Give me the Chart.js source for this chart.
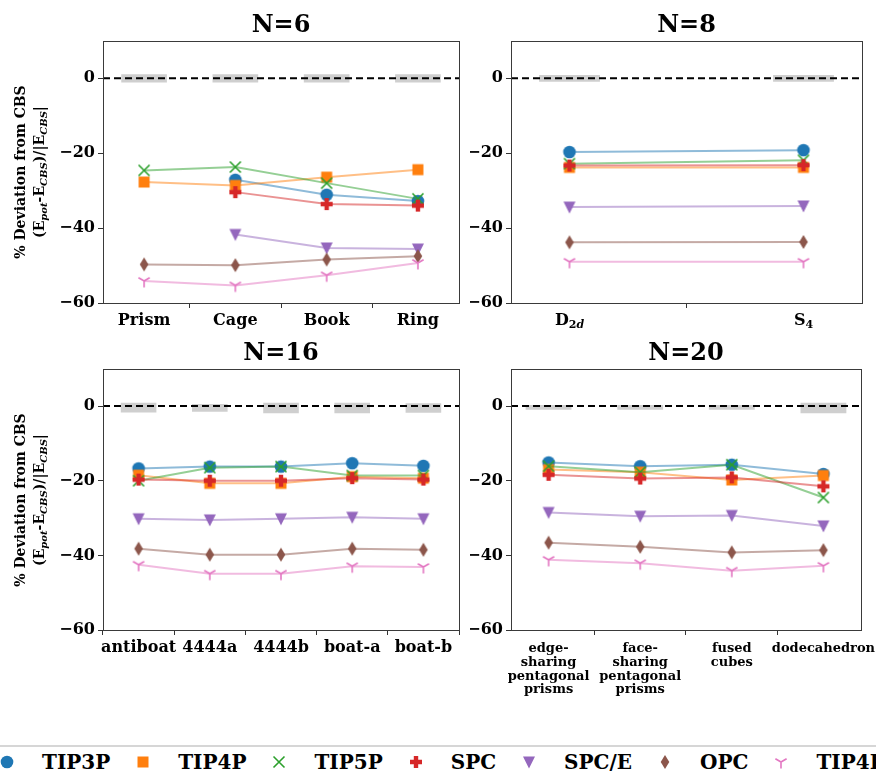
<!DOCTYPE html>
<html>
<head>
<meta charset="utf-8">
<script src="https://cdn.jsdelivr.net/npm/chart.js@4.4.1/dist/chart.umd.min.js"></script>
<style>
  html, body { margin: 0; padding: 0; background: #fff; }
  body { width: 876px; height: 779px; position: relative; overflow: hidden; font-family: 'DejaVu Serif', serif; }
  canvas.panel { position: absolute; }
  .ylab { position: absolute; width: 260px; height: 40px; text-align: center; font-weight: bold; font-size: 14px;
          line-height: 19px; transform: rotate(-90deg); white-space: nowrap; color: #000; }
  .ylab sub { font-size: 10px; font-style: italic; vertical-align: -3px; line-height: 0; }
  #legend { position: absolute; left: -3px; top: 745px; width: 1200px; height: 29px; border-top: 2px solid #d6d6d6;
            display: flex; align-items: center; }
  #legend .item { display: flex; align-items: center; margin-right: 23px; }
  #legend .mk { width: 20px; display: flex; justify-content: center; }
  #legend .txt { margin-left: 25px; font-weight: bold; font-size: 20px; color: #000; white-space: nowrap; }
</style>
</head>
<body>
<canvas id="c6" class="panel" width="470" height="345" style="left:0;top:0"></canvas>
<canvas id="c8" class="panel" width="406" height="345" style="left:470px;top:0"></canvas>
<canvas id="c16" class="panel" width="470" height="400" style="left:0;top:328px"></canvas>
<canvas id="c20" class="panel" width="406" height="400" style="left:470px;top:328px"></canvas>
<div class="ylab" style="left:-99px;top:152px">% Deviation from CBS<br>(E<sub>pot</sub>-E<sub>CBS</sub>)/|E<sub>CBS</sub>|</div>
<div class="ylab" style="left:-99px;top:480px">% Deviation from CBS<br>(E<sub>pot</sub>-E<sub>CBS</sub>)/|E<sub>CBS</sub>|</div>
<div id="legend"></div>
<script>
const SERIF = "'DejaVu Serif', serif";
const SERIES = ['TIP3P', 'TIP4P', 'TIP5P', 'SPC', 'SPC/E', 'OPC', 'TIP4P/Ew'];
const COLORS = ['#1f77b4', '#ff7f0e', '#2ca02c', '#d62728', '#9467bd', '#8c564b', '#e377c2'];
const MARKERS = ['o', 's', 'x', 'P', 'v', 'd', '1'];
const yTicks = [-60, -40, -20, 0];

// N=6
const catsN6 = ['Prism', 'Cage', 'Book', 'Ring'];
const tip3pN6 = [null, -27.1, -31.1, -32.8];
const tip4pN6 = [-27.7, -28.6, -26.4, -24.4];
const tip5pN6 = [-24.6, -23.7, -28.0, -32.2];
const spcN6 = [null, -30.4, -33.6, -34.0];
const spceN6 = [null, -41.7, -45.3, -45.6];
const opcN6 = [-49.7, -49.9, -48.4, -47.5];
const ewN6 = [-54.1, -55.3, -52.6, -49.3];
const cbsLowN6 = [-1.1, -1.1, -1.1, -1.1];
const cbsHighN6 = [1.1, 1.1, 1.1, 1.1];

// N=8
const catsN8 = ['D', 'S'];
const subN8 = ['2d', '4'];
const tip3pN8 = [-19.7, -19.2];
const tip4pN8 = [-23.8, -23.8];
const tip5pN8 = [-22.8, -21.9];
const spcN8 = [-23.3, -23.2];
const spceN8 = [-34.4, -34.1];
const opcN8 = [-43.8, -43.7];
const ewN8 = [-49.0, -49.0];
const cbsLowN8 = [-0.9, -0.9];
const cbsHighN8 = [0.9, 0.9];

// N=16
const catsN16 = ['antiboat', '4444a', '4444b', 'boat-a', 'boat-b'];
const tip3pN16 = [-16.7, -16.2, -16.2, -15.3, -16.0];
const tip4pN16 = [-18.5, -20.7, -20.7, -18.9, -19.3];
const tip5pN16 = [-20.0, -16.5, -16.2, -18.6, -18.6];
const spcN16 = [-19.7, -20.0, -20.0, -19.3, -19.7];
const spceN16 = [-30.2, -30.5, -30.2, -29.8, -30.2];
const opcN16 = [-38.2, -39.8, -39.8, -38.2, -38.5];
const ewN16 = [-42.5, -44.9, -44.9, -42.9, -43.1];
const cbsLowN16 = [-1.7, -1.5, -1.9, -1.9, -1.8];
const cbsHighN16 = [0.9, 0.6, 0.9, 0.9, 0.8];

// N=20
const catsN20 = [['edge-', 'sharing', 'pentagonal', 'prisms'], ['face-', 'sharing', 'pentagonal', 'prisms'],
                 ['fused', 'cubes'], ['dodecahedron']];
const tip3pN20 = [-15.1, -16.1, -15.7, -18.2];
const tip4pN20 = [-17.0, -17.7, -19.8, -18.6];
const tip5pN20 = [-16.1, -17.7, -15.7, -24.5];
const spcN20 = [-18.4, -19.4, -19.1, -21.5];
const spceN20 = [-28.5, -29.5, -29.3, -32.1];
const opcN20 = [-36.6, -37.7, -39.2, -38.6];
const ewN20 = [-41.2, -42.1, -44.1, -42.8];
const cbsLowN20 = [-1.0, -1.0, -1.0, -1.9];
const cbsHighN20 = [0.3, 0.3, 0.3, 0.9];

// matplotlib-like marker glyphs as little canvases
function makeMarker(kind, color) {
    const c = document.createElement('canvas');
    c.width = c.height = 16;
    const g = c.getContext('2d'), m = 8;
    g.fillStyle = g.strokeStyle = color;
    g.lineWidth = 1.6;
    g.beginPath();
    if (kind === 'o') { g.arc(m, m, 6.3, 0, 2 * Math.PI); g.fill(); }
    else if (kind === 's') { g.rect(m - 5.5, m - 5.5, 11, 11); g.fill(); }
    else if (kind === 'x') {
        g.moveTo(m - 5.5, m - 5.5); g.lineTo(m + 5.5, m + 5.5);
        g.moveTo(m + 5.5, m - 5.5); g.lineTo(m - 5.5, m + 5.5); g.stroke();
    }
    else if (kind === 'P') {
        const a = 6, b = 2.2;
        const pts = [[-b,-a],[b,-a],[b,-b],[a,-b],[a,b],[b,b],[b,a],[-b,a],[-b,b],[-a,b],[-a,-b],[-b,-b]];
        pts.forEach((p, i) => i ? g.lineTo(m + p[0], m + p[1]) : g.moveTo(m + p[0], m + p[1]));
        g.closePath(); g.fill();
    }
    else if (kind === 'v') { g.moveTo(m - 6, m - 5.5); g.lineTo(m + 6, m - 5.5); g.lineTo(m, m + 6.5); g.closePath(); g.fill(); }
    else if (kind === 'd') { g.moveTo(m, m - 7); g.lineTo(m + 4.3, m); g.lineTo(m, m + 7); g.lineTo(m - 4.3, m); g.closePath(); g.fill(); }
    else if (kind === '1') {
        g.moveTo(m, m); g.lineTo(m, m + 6.5);
        g.moveTo(m, m); g.lineTo(m - 5.6, m - 3.3);
        g.moveTo(m, m); g.lineTo(m + 5.6, m - 3.3); g.stroke();
    }
    return c;
}

const frame = {
    id: 'frame',
    afterDatasetsDraw(chart) {
        const {ctx, chartArea: a} = chart;
        ctx.save();
        ctx.strokeStyle = '#3a3a3a';
        ctx.lineWidth = 1;
        ctx.strokeRect(Math.round(a.left) + 0.5, Math.round(a.top) + 0.5, Math.round(a.right - a.left), Math.round(a.bottom - a.top));
        ctx.restore();
    }
};

// tick labels with subscripts (D2d, S4)
function subTicks(main, sub) {
    return {
        id: 'subTicks',
        afterDraw(chart) {
            const s = chart.scales.x, ctx = chart.ctx;
            const big = 'bold 16px ' + SERIF, small = 'bold 11px ' + SERIF, smallIt = 'italic bold 11px ' + SERIF;
            ctx.save();
            ctx.fillStyle = '#000';
            ctx.textBaseline = 'middle';
            ctx.textAlign = 'left';
            main.forEach((m, i) => {
                ctx.font = big;
                const wm = ctx.measureText(m).width;
                let ws = 0;
                for (const ch of sub[i]) { ctx.font = /[a-z]/.test(ch) ? smallIt : small; ws += ctx.measureText(ch).width; }
                let x = s.getPixelForValue(i) - (wm + ws) / 2;
                const y = s.top + 5 + 3 + 9.6;
                ctx.font = big;
                ctx.fillText(m, x, y);
                x += wm;
                for (const ch of sub[i]) {
                    ctx.font = /[a-z]/.test(ch) ? smallIt : small;
                    ctx.fillText(ch, x, y + 5);
                    x += ctx.measureText(ch).width;
                }
            });
            ctx.restore();
        }
    };
}

function panel(id, title, cats, series, cbsLow, cbsHigh, opt) {
    const xLim = [-opt.margin, cats.length - 1 + opt.margin];
    const datasets = [];
    datasets.push({
        type: 'bar',
        data: cats.map((c, i) => ({x: i, y: [cbsLow[i], cbsHigh[i]]})),
        backgroundColor: 'rgba(160,160,160,0.5)',
        borderWidth: 0,
        barPercentage: opt.band,
        categoryPercentage: 1,
        order: 9
    });
    datasets.push({
        type: 'line',
        data: xLim.map(x => ({x: x, y: 0})),
        borderColor: '#000',
        borderWidth: 2,
        borderDash: [7, 4],
        pointRadius: 0,
        order: 8
    });
    series.forEach((vals, k) => {
        datasets.push({
            type: 'line',
            label: SERIES[k],
            data: vals.map((v, i) => ({x: i, y: v})),
            borderColor: COLORS[k] + '80',
            borderWidth: 2,
            pointStyle: makeMarker(MARKERS[k], COLORS[k]),
            pointRadius: 6,
            tension: 0,
            spanGaps: false,
            order: 7 - k
        });
    });

    const gridStyle = {drawOnChartArea: false, drawTicks: true, tickLength: 5, tickColor: '#333', color: '#333'};
    const plugins = [frame];
    if (opt.sub) plugins.push(subTicks(cats, opt.sub));

    new Chart(document.getElementById(id), {
        type: 'line',
        data: {datasets: datasets},
        options: {
            responsive: false,
            animation: false,
            devicePixelRatio: 1,
            events: [],
            layout: {padding: {left: 0, right: opt.padRight, top: 0, bottom: 0}},
            plugins: {
                legend: {display: false},
                tooltip: {enabled: false},
                title: {
                    display: true, text: title, fullSize: false, color: '#000',
                    font: {family: SERIF, size: 24, weight: 'bold', lineHeight: 1.2},
                    padding: {top: 11, bottom: 1}
                }
            },
            scales: {
                x: {
                    type: 'linear', min: xLim[0], max: xLim[1], offset: false,
                    afterBuildTicks: s => { s.ticks = cats.map((c, i) => ({value: i})); },
                    afterFit: s => { s.height = opt.xh; s.paddingLeft = 0; s.paddingRight = 0; },
                    grid: gridStyle,
                    border: {display: false},
                    ticks: {
                        autoSkip: false, maxRotation: 0, minRotation: 0, padding: opt.xPad || 3, color: '#000',
                        font: {family: SERIF, weight: 'bold', size: opt.xFont || 16, lineHeight: opt.xLine || 1.2},
                        callback: v => opt.sub ? '' : cats[v]
                    }
                },
                y: {
                    type: 'linear', min: -60, max: 10,
                    afterBuildTicks: s => { s.ticks = yTicks.map(v => ({value: v})); },
                    afterFit: s => { s.width = opt.yw; },
                    grid: gridStyle,
                    border: {display: false},
                    ticks: {
                        padding: 3, color: '#000',
                        font: {family: SERIF, weight: 'bold', size: 16},
                        callback: v => v < 0 ? '\u2212' + (-v) : String(v)
                    }
                }
            }
        },
        plugins: plugins
    });
}

panel('c6', 'N=6', catsN6, [tip3pN6, tip4pN6, tip5pN6, spcN6, spceN6, opcN6, ewN6], cbsLowN6, cbsHighN6,
      {margin: 0.45, band: 0.5, padRight: 11, yw: 103, xh: 42});
panel('c8', 'N=8', catsN8, [tip3pN8, tip4pN8, tip5pN8, spcN8, spceN8, opcN8, ewN8], cbsLowN8, cbsHighN8,
      {margin: 0.25, band: 0.26, padRight: 14, yw: 41, xh: 42, sub: subN8});
panel('c16', 'N=16', catsN16, [tip3pN16, tip4pN16, tip5pN16, spcN16, spceN16, opcN16, ewN16], cbsLowN16, cbsHighN16,
      {margin: 0.5, band: 0.5, padRight: 11, yw: 103, xh: 98});
panel('c20', 'N=20', catsN20, [tip3pN20, tip4pN20, tip5pN20, spcN20, spceN20, opcN20, ewN20], cbsLowN20, cbsHighN20,
      {margin: 0.41, band: 0.5, padRight: 15, yw: 41, xh: 98, xFont: 13, xLine: 1.05, xPad: 7});

// legend row along the bottom (runs off the right edge like the original)
const legend = document.getElementById('legend');
SERIES.forEach((name, k) => {
    const item = document.createElement('div');
    item.className = 'item';
    const mk = document.createElement('span');
    mk.className = 'mk';
    mk.appendChild(makeMarker(MARKERS[k], COLORS[k]));
    const txt = document.createElement('span');
    txt.className = 'txt';
    txt.textContent = name;
    item.appendChild(mk);
    item.appendChild(txt);
    legend.appendChild(item);
});
</script>
</body>
</html>
